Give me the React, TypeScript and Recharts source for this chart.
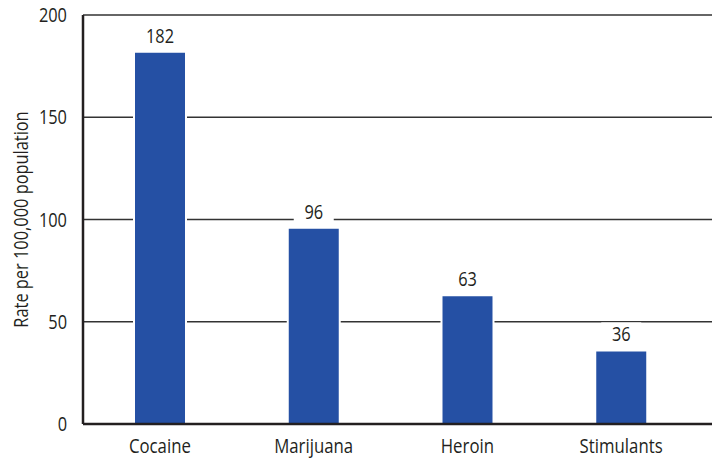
import { BarChart, Bar, XAxis, YAxis, CartesianGrid, LabelList } from 'recharts'

const drugs = ['Cocaine', 'Marijuana', 'Heroin', 'Stimulants']
const rates = [182, 96, 63, 36]
const yTicks = [0, 50, 100, 150, 200]

const data = drugs.map((drug, i) => ({ drug, rate: rates[i] }))

const FONT = '"Open Sans", sans-serif'
const INK = '#231f20'
const BLUE = '#2550a4'
// Open Sans squeezed sideways reads like a condensed face
const SQUEEZE = 0.84

function NarrowText({ x, y, anchor = 'middle', size = 19.5, rotate = 0, children }: any) {
  return (
    <text
      transform={`translate(${x},${y}) rotate(${rotate}) scale(${SQUEEZE},1)`}
      textAnchor={anchor}
      fontFamily={FONT}
      fontSize={size}
      fill={INK}
    >
      {children}
    </text>
  )
}

// value above each bar, on a white patch so the gridline breaks around it
function ValueLabel(props: any) {
  const { x, y, width, value } = props
  const cx = Number(x) + Number(width) / 2
  const top = Number(y)
  return (
    <g>
      <rect x={cx - 20} y={top - 28} width={40} height={26} fill="#fff" />
      <NarrowText x={cx} y={top - 9}>{value}</NarrowText>
    </g>
  )
}

function CategoryTick(props: any) {
  const { x, y, payload } = props
  return <NarrowText x={x} y={Number(y) + 21} size={20}>{payload.value}</NarrowText>
}

function ValueTick(props: any) {
  const { x, y, payload } = props
  return <NarrowText x={x} y={Number(y) + 7} anchor="end">{payload.value}</NarrowText>
}

function AxisTitle(props: any) {
  const vb = props.viewBox || {}
  const cx = (vb.x || 0) + 28
  const cy = (vb.y || 0) + (vb.height || 0) / 2
  return <NarrowText x={cx} y={cy} rotate={-90}>Rate per 100,000 population</NarrowText>
}

export default function App() {
  return (
    <div style={{ width: 712, height: 458 }}>
      <style>{'body{margin:0}'}</style>
      <BarChart width={712} height={458} data={data} margin={{ top: 15, right: 0, bottom: 0, left: 0 }}>
        <CartesianGrid vertical={false} stroke="#333" strokeWidth={1.5} />
        <XAxis
          dataKey="drug"
          height={34}
          padding={{ left: 0, right: 14 }}
          axisLine={{ stroke: INK, strokeWidth: 2.5 }}
          tickLine={false}
          tick={CategoryTick}
        />
        <YAxis
          width={83}
          domain={[0, 200]}
          ticks={yTicks}
          interval={0}
          axisLine={{ stroke: INK, strokeWidth: 2.5 }}
          tickLine={false}
          tickMargin={10}
          tick={ValueTick}
          label={{ content: AxisTitle }}
        />
        <Bar dataKey="rate" fill={BLUE} barSize={52} stroke="#fff" strokeWidth={2} isAnimationActive={false}>
          <LabelList dataKey="rate" content={ValueLabel} />
        </Bar>
      </BarChart>
    </div>
  )
}
